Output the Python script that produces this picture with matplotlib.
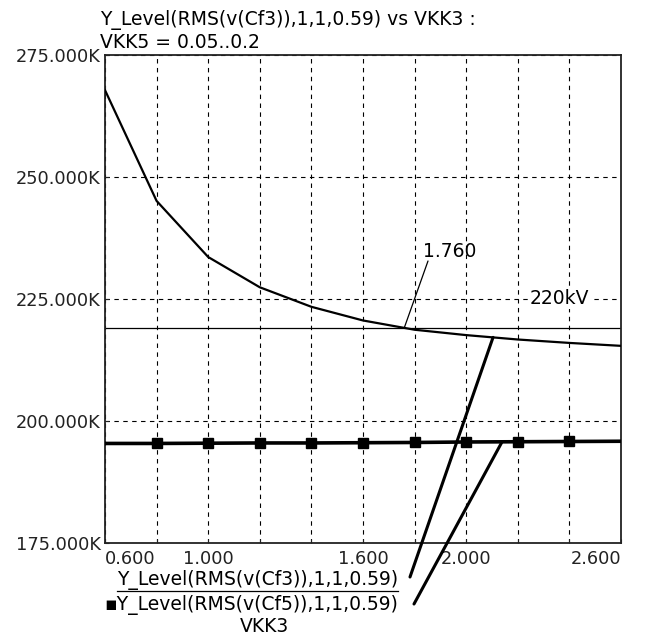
import numpy as np
import matplotlib
matplotlib.use("Agg")
import matplotlib.pyplot as plt
from matplotlib.lines import Line2D

# data
vkk3 = [0.6, 0.8, 1.0, 1.2, 1.4, 1.6, 1.8, 2.0, 2.2, 2.4, 2.6]
cf3_level = [267800, 245100, 233600, 227400, 223400, 220600, 218700, 217600, 216700, 216000, 215400]
cf5_level = [195400, 195400, 195450, 195500, 195500, 195550, 195600, 195700, 195750, 195800, 195850]
level_220kv = 219100
cross_x = 1.760

x_ticks = [0.6, 0.8, 1.0, 1.2, 1.4, 1.6, 1.8, 2.0, 2.2, 2.4, 2.6]
x_labels = ["0.600", "", "1.000", "", "", "1.600", "", "2.000", "", "", "2.600"]
y_ticks = [175000, 200000, 225000, 250000, 275000]
y_labels = ["175.000K", "200.000K", "225.000K", "250.000K", "275.000K"]

W, H = 649, 637
FS = 13.5


def fx(x):
    return x / W


def fy(y):
    return 1 - y / H


fig = plt.figure(figsize=(W / 100, H / 100), dpi=100)
ax = fig.add_axes([fx(105), fy(543), (621 - 105) / W, (543 - 55) / H])

ax.set_xlim(0.6, 2.6)
ax.set_ylim(175000, 275000)
ax.set_xticks(x_ticks)
ax.set_xticklabels(x_labels, fontsize=12.8)
ax.set_yticks(y_ticks)
ax.set_yticklabels(y_labels, fontsize=12.8)
for lab, ha in zip(ax.get_xticklabels(), ["left"] + ["center"] * 9 + ["right"]):
    lab.set_ha(ha)
ax.tick_params(direction="in", length=3, width=0.8, pad=3, colors="#222222")
ax.tick_params(axis="x", pad=5)
ax.grid(True, color="black", linestyle=(0, (4, 4)), linewidth=0.8)
for sp in ax.spines.values():
    sp.set_linewidth(1.3)
    sp.set_color("#222222")

ax.plot(vkk3, cf3_level, color="black", lw=1.6, zorder=3)
ax.plot(vkk3, cf5_level, color="black", lw=2.6, marker="s", markersize=6.5,
        markevery=list(range(1, 10)), zorder=3)
ax.axhline(level_220kv, color="black", lw=0.9, zorder=2)

# 220kV label on the grid line
ax.text(2.36, 225000, "220kV", fontsize=FS, ha="center", va="center",
        bbox=dict(facecolor="white", edgecolor="none", pad=0.5), zorder=4)

# crossing marker label
ax.annotate("", xy=(cross_x, level_220kv), xycoords="data",
            xytext=(428, H - 261), textcoords="figure pixels",
            arrowprops=dict(arrowstyle="-", lw=0.9, color="black", shrinkA=0, shrinkB=0))
fig.text(fx(423), fy(257), "1.760", fontsize=FS, ha="left", va="baseline")

# title
fig.text(fx(100), fy(25), "Y_Level(RMS(v(Cf3)),1,1,0.59) vs VKK3 :", fontsize=FS, va="baseline")
fig.text(fx(100), fy(48), "VKK5 = 0.05..0.2", fontsize=FS, va="baseline")

# trace names with leader lines
fig.text(fx(398), fy(585), "Y_Level(RMS(v(Cf3)),1,1,0.59)", fontsize=FS, ha="right", va="baseline")
fig.add_artist(Line2D([fx(117), fx(398)], [fy(591), fy(591)], color="black", lw=0.9))
fig.text(fx(398), fy(610), "\u25aaY_Level(RMS(v(Cf5)),1,1,0.59)", fontsize=FS, ha="right", va="baseline")
fig.text(fx(264), fy(632), "VKK3", fontsize=FS, ha="center", va="baseline")

ax.annotate("", xy=(2.104, np.interp(2.104, vkk3, cf3_level)), xycoords="data",
            xytext=(410, H - 577), textcoords="figure pixels",
            arrowprops=dict(arrowstyle="-", lw=2.2, color="black", shrinkA=0, shrinkB=0),
            annotation_clip=False)
ax.annotate("", xy=(2.139, np.interp(2.139, vkk3, cf5_level)), xycoords="data",
            xytext=(414, H - 604), textcoords="figure pixels",
            arrowprops=dict(arrowstyle="-", lw=2.2, color="black", shrinkA=0, shrinkB=0),
            annotation_clip=False)

fig.savefig("out.png", dpi=100)
